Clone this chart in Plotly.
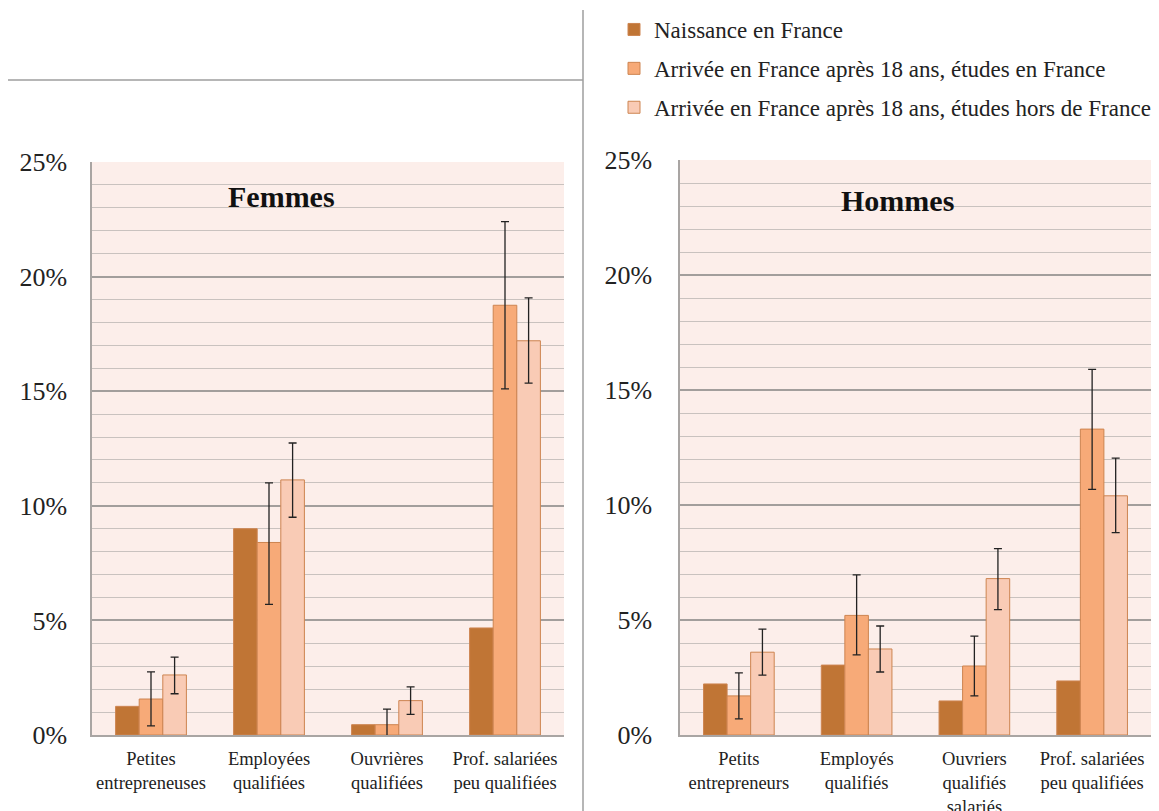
import plotly.graph_objects as go

# ─────────────────────────────────────────────────────────────────────────────
# Data (values in %)
# ─────────────────────────────────────────────────────────────────────────────

series_names = [
    "Naissance en France",
    "Arrivée en France après 18 ans, études en France",
    "Arrivée en France après 18 ans, études hors de France",
]
series_colors = ["#C07535", "#F7AA78", "#F9CBB5"]

cats_femmes = [
    "Petites<br>entrepreneuses",
    "Employées<br>qualifiées",
    "Ouvrières<br>qualifiées",
    "Prof. salariées<br>peu qualifiées",
]
cats_hommes = [
    "Petits<br>entrepreneurs",
    "Employés<br>qualifiés",
    "Ouvriers<br>qualifiés<br>salariés",
    "Prof. salariées<br>peu qualifiées",
]

# Femmes
f_naissance = [1.25, 9.0, 0.45, 4.67]
f_etudes_fr = [1.57, 8.4, 0.45, 18.75]
f_etudes_fr_low = [0.4, 5.7, -0.2, 15.1]
f_etudes_fr_high = [2.75, 11.0, 1.13, 22.4]
f_etudes_hors = [2.62, 11.13, 1.5, 17.2]
f_etudes_hors_low = [1.8, 9.5, 0.9, 15.35]
f_etudes_hors_high = [3.4, 12.74, 2.1, 19.07]

# Hommes
h_naissance = [2.22, 3.04, 1.48, 2.35]
h_etudes_fr = [1.7, 5.2, 3.0, 13.3]
h_etudes_fr_low = [0.7, 3.48, 1.7, 10.68]
h_etudes_fr_high = [2.7, 6.96, 4.3, 15.9]
h_etudes_hors = [3.6, 3.74, 6.8, 10.4]
h_etudes_hors_low = [2.6, 2.74, 5.45, 8.8]
h_etudes_hors_high = [4.6, 4.74, 8.1, 12.04]

tick_vals = [0, 5, 10, 15, 20, 25]
tick_text = ["0%", "5%", "10%", "15%", "20%", "25%"]

FONT = "Liberation Serif"
BG = "#FCEEEA"
OUTLINE = "#CD8450"
W, H = 1159, 811
OFF = 8  # page body margin


# screen pixel -> paper fraction
def px(x):
    return (x - OFF) / W


def py(y):
    return 1 - (y - OFF) / H


fig = go.Figure()


def err(vals, low, high):
    return dict(
        type="data", symmetric=False,
        array=[h - v for v, h in zip(vals, high)],
        arrayminus=[v - l for v, l in zip(vals, low)],
        color="#222222", thickness=1.3, width=4,
    )


panels = [
    ("x", "y", cats_femmes,
     [f_naissance, f_etudes_fr, f_etudes_hors],
     [None, (f_etudes_fr_low, f_etudes_fr_high), (f_etudes_hors_low, f_etudes_hors_high)]),
    ("x2", "y2", cats_hommes,
     [h_naissance, h_etudes_fr, h_etudes_hors],
     [None, (h_etudes_fr_low, h_etudes_fr_high), (h_etudes_hors_low, h_etudes_hors_high)]),
]

for p, (xa, ya, cats, vals_list, errs) in enumerate(panels):
    for i, (name, color, vals, e) in enumerate(zip(series_names, series_colors, vals_list, errs)):
        fig.add_trace(go.Bar(
            x=cats, y=vals, name=name,
            xaxis=xa, yaxis=ya,
            marker=dict(color=color, line=dict(color=OUTLINE, width=1)),
            error_y=err(vals, *e) if e else None,
            showlegend=(p == 0),
            legendgroup=f"g{i}",
        ))

axis_common_y = dict(
    range=[0, 25], tickvals=tick_vals, ticktext=tick_text,
    showgrid=True, gridcolor="#A29E9C", gridwidth=1.5,
    minor=dict(dtick=1, showgrid=True, gridcolor="#C9C2BF", gridwidth=1.3),
    showline=True, linecolor="#A9A5A3", linewidth=1.5,
    zeroline=False, ticks="",
    tickfont=dict(family=FONT, size=26, color="#222222"),
    fixedrange=True,
)
axis_common_x = dict(
    showline=True, linecolor="#A9A5A3", linewidth=2,
    ticks="", tickfont=dict(family=FONT, size=18.5, color="#222222"),
    ticklabelstandoff=6, tickangle=0,
)

fig.update_layout(
    width=W, height=H,
    margin=dict(l=0, r=0, t=0, b=0, autoexpand=False),
    paper_bgcolor="white", plot_bgcolor=BG,
    barmode="group", bargap=0.4, bargroupgap=0,
    font=dict(family=FONT, color="#222222"),
    xaxis=dict(domain=[px(92), px(564)], anchor="y", **axis_common_x),
    yaxis=dict(domain=[py(735), py(162)], anchor="x", ticklabelstandoff=18, **axis_common_y),
    xaxis2=dict(domain=[px(680), px(1151)], anchor="y2", **axis_common_x),
    yaxis2=dict(domain=[py(735), py(160)], anchor="x2", ticklabelstandoff=21, **axis_common_y),
    legend=dict(
        x=px(614), y=1.0, xanchor="left", yanchor="top",
        font=dict(family=FONT, size=23, color="#222222"),
        tracegroupgap=6, bgcolor="rgba(0,0,0,0)",
    ),
    annotations=[
        dict(text="<b>Femmes</b>", x=px(281), y=py(196), xref="paper", yref="paper",
             xanchor="center", yanchor="middle", showarrow=False,
             font=dict(family=FONT, size=30, color="#111111")),
        dict(text="<b>Hommes</b>", x=px(897), y=py(200), xref="paper", yref="paper",
             xanchor="center", yanchor="middle", showarrow=False,
             font=dict(family=FONT, size=30, color="#111111")),
    ],
    shapes=[
        dict(type="line", xref="paper", yref="paper", x0=px(7), x1=px(583),
             y0=py(80), y1=py(80), line=dict(color="#9E9E9E", width=1.5)),
        dict(type="line", xref="paper", yref="paper", x0=px(583), x1=px(583),
             y0=0, y1=py(10), line=dict(color="#9E9E9E", width=1.5)),
    ],
)

fig.write_html("out.html")
